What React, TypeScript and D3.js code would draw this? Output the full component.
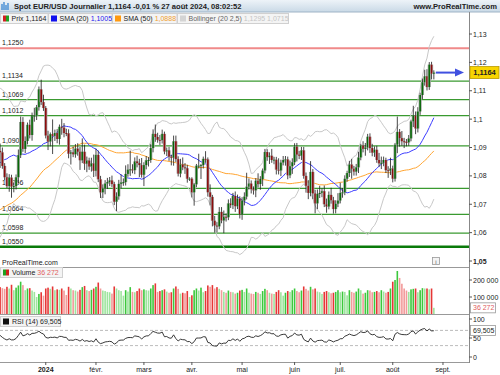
import * as d3 from "d3";

// closes before the first visible candle (needed for SMA 50, Bollinger and RSI)
const HISTORY = [
  1.0645, 1.0592, 1.0571, 1.0502, 1.0566, 1.0573,
  1.0477, 1.0467, 1.0504, 1.055, 1.0588, 1.0563, 1.0604, 1.062, 1.053, 1.051, 1.0555,
  1.0575, 1.0535, 1.058, 1.0593, 1.067, 1.059, 1.0566, 1.0562, 1.0564, 1.0615, 1.0575,
  1.057, 1.062, 1.0729, 1.071, 1.0697, 1.071, 1.0667, 1.0685, 1.07, 1.0878, 1.085,
  1.0852, 1.0912, 1.0939, 1.091, 1.0886, 1.0905, 1.094, 1.0953, 1.099, 1.097, 1.0888,
];

// daily closes, 1 Dec 2023 -> 27 Aug 2024
const CLOSE = [
  // déc.
  1.0883, 1.0835, 1.0795, 1.0764, 1.0794, 1.0762, 1.0764, 1.0795, 1.0873, 1.099,
  1.0895, 1.0923, 1.098, 1.0944, 1.1011, 1.1012, 1.1042, 1.1105, 1.106, 1.1039,
  // janv.
  1.0942, 1.0921, 1.0947, 1.0941, 1.0951, 1.093, 1.0973, 1.097, 1.0951, 1.095, 1.0878,
  1.0883, 1.0876, 1.0896, 1.0885, 1.0855, 1.0885, 1.0843, 1.0854, 1.0833, 1.0844, 1.0818,
  // févr.
  1.0874, 1.0788, 1.0742, 1.0755, 1.0773, 1.0778, 1.0784, 1.0771, 1.0709, 1.0728, 1.0772,
  1.0777, 1.0778, 1.0807, 1.0822, 1.0823, 1.082, 1.0851, 1.0845, 1.0838, 1.0804,
  // mars
  1.0838, 1.0855, 1.0856, 1.0898, 1.0948, 1.0937, 1.0927, 1.0926, 1.0948, 1.0886, 1.089,
  1.0868, 1.0864, 1.0922, 1.0859, 1.0808, 1.084, 1.083, 1.0827, 1.079, 1.079,
  // avr.
  1.0742, 1.077, 1.0836, 1.0836, 1.0838, 1.086, 1.0858, 1.0742, 1.0726, 1.0642, 1.0625,
  1.0622, 1.0673, 1.0643, 1.0656, 1.0654, 1.0703, 1.0697, 1.0729, 1.0693, 1.072, 1.0665,
  // mai
  1.0713, 1.0727, 1.0762, 1.0773, 1.0753, 1.0749, 1.0783, 1.0771, 1.0789, 1.0819, 1.0884,
  1.0866, 1.0871, 1.0856, 1.0857, 1.0822, 1.0819, 1.0847, 1.0856, 1.0858, 1.0802, 1.0834, 1.0848,
  // juin
  1.0903, 1.0875, 1.0871, 1.089, 1.08, 1.0765, 1.074, 1.0814, 1.0738, 1.0703,
  1.0736, 1.074, 1.0746, 1.07, 1.0692, 1.0733, 1.0714, 1.0683, 1.0702, 1.0713,
  // juil.
  1.074, 1.0742, 1.079, 1.081, 1.084, 1.0825, 1.0815, 1.083, 1.0865, 1.0907, 1.0895, 1.09,
  1.0938, 1.0898, 1.0882, 1.0892, 1.0856, 1.0844, 1.0846, 1.0856, 1.082, 1.0818, 1.0826,
  // août
  1.079, 1.091, 1.0955, 1.0933, 1.0922, 1.092, 1.0918, 1.0932, 1.0992, 1.1012,
  1.0967, 1.1027, 1.1085, 1.113, 1.1151, 1.1113, 1.1192, 1.116, 1.1164,
];

// upper / lower shadow beyond the body, in pips
const UP = [
  26, 17, 10, 14, 12, 10, 12, 10, 20, 19, 17, 16, 8, 18, 12, 28, 8, 10, 34, 26,
  7, 17, 6, 52, 12, 14, 8, 28, 16, 15, 14, 8, 20, 16, 19, 17, 47, 25, 14, 10, 20, 31,
  22, 15, 12, 15, 12, 15, 12, 17, 8, 14, 14, 28, 13, 30, 19, 66, 18, 14, 20, 15, 25,
  10, 15, 10, 15, 16, 33, 15, 17, 15, 8, 10, 12, 6, 20, 20, 10, 20, 25, 15, 12, 5,
  5, 5, 6, 42, 4, 8, 27, 7, 28, 7, 17, 12, 17, 17, 22, 12, 14, 18, 11, 16, 14, 8,
  12, 15, 49, 18, 11, 10, 9, 26, 10, 7, 11, 10, 12, 24, 10, 10, 40, 10, 14, 12, 10, 20, 14,
  12, 13, 13, 12, 12, 12, 20, 38, 10, 13, 16, 25, 10, 20, 20, 12, 25, 12, 12, 26,
  36, 15, 12, 8, 13, 20, 10, 12, 20, 6, 15, 16, 10, 12, 15, 12, 14, 25, 22, 12, 8, 14, 38,
  10, 6, 54, 10, 25, 12, 10, 12, 6, 35, 15, 15, 8, 13, 23, 25, 9, 10, 8,
];
const DN = [
  55, 10, 10, 7, 20, 39, 20, 12, 20, 10, 10, 15, 12, 12, 20, 20, 15, 12, 10, 10,
  10, 30, 17, 64, 18, 15, 20, 25, 15, 10, 16, 38, 10, 12, 14, 34, 10, 22, 30, 12, 18, 22,
  20, 10, 20, 20, 20, 19, 14, 10, 12, 33, 12, 16, 12, 12, 10, 22, 11, 14, 15, 42, 10,
  40, 15, 22, 10, 15, 17, 10, 17, 12, 10, 16, 15, 27, 28, 10, 10, 13, 10, 20, 14, 8,
  18, 47, 10, 10, 47, 12, 12, 15, 30, 20, 25, 21, 10, 10, 45, 15, 10, 10, 14, 20, 10, 15,
  20, 17, 10, 10, 15, 15, 24, 12, 20, 25, 10, 13, 24, 10, 15, 17, 14, 20, 10, 20, 14, 10, 27,
  10, 24, 12, 15, 10, 24, 22, 12, 20, 35, 20, 14, 15, 10, 22, 10, 12, 16, 15, 12,
  10, 17, 10, 10, 14, 35, 14, 14, 20, 10, 12, 24, 10, 17, 13, 15, 10, 12, 20, 12, 10, 25, 15,
  13, 10, 30, 30, 16, 22, 14, 12, 10, 20, 20, 14, 12, 14, 12, 12, 10, 20, 20,
];

// volume in thousands
const VOLUME = [
  158, 152, 148, 160, 150, 172, 140, 155, 168, 190, 170, 140, 150, 152, 138, 130, 100, 118, 128, 108,
  150, 155, 148, 162, 140, 145, 142, 150, 138, 112, 160, 150, 140, 138, 132, 142, 158, 165, 140, 135, 142, 150,
  160, 185, 150, 138, 135, 130, 128, 120, 162, 150, 140, 135, 108, 140, 132, 158, 130, 128, 135, 150, 140,
  145, 140, 138, 150, 170, 180, 130, 135, 140, 145, 132, 125, 128, 150, 162, 148, 120, 125, 122, 135, 100,
  110, 140, 150, 138, 155, 128, 135, 168, 160, 170, 150, 158, 148, 140, 130, 125, 138, 130, 128, 120, 125, 138,
  142, 130, 150, 125, 120, 118, 130, 125, 118, 135, 148, 140, 125, 120, 118, 130, 140, 128, 108, 125, 135, 130, 140,
  150, 135, 128, 138, 162, 148, 138, 160, 145, 150, 132, 128, 118, 130, 135, 128, 122, 125, 130, 140,
  128, 132, 130, 110, 140, 130, 125, 132, 150, 140, 120, 125, 140, 138, 128, 130, 135, 128, 140, 132, 125, 130, 150,
  190, 200, 253, 212, 178, 150, 138, 130, 145, 148, 150, 128, 140, 152, 150, 150, 145, 150, 36.272,
];

const MONTH_LABELS = ["2024", "févr.", "mars", "avr.", "mai", "juin", "juil.", "août", "sept."];
const MONTH_INDEX = [20, 42, 63, 84, 106, 129, 149, 172, 194];

const LEVELS = [1.125, 1.1134, 1.1069, 1.1012, 1.0906, 1.0756, 1.0664, 1.0598, 1.055];
const PRICE_TICKS = [1.13, 1.12, 1.11, 1.1, 1.09, 1.08, 1.07, 1.06, 1.05];
const VOLUME_TICKS = [200000, 100000];
const RSI_TICKS = [100, 50, 0];

// indicator readouts as printed by the platform
const LEGEND_LABELS = ["Prix", "SMA (20)", "SMA (50)", "Bollinger (20 2,5)"];
const LEGEND_VALUES = ["1,1164", "1,1005", "1,0888", "1,1295 1,0715"];
const RSI_LAST = 69.505;
const VOLUME_LAST = "36 272";

const FONT = "'Liberation Sans', Arial, sans-serif";
const fmt = (v: number, d: number) => v.toFixed(d).replace(".", ",");

export default function App() {
  const W = 500, H = 375;
  const plotR = 469;
  const all = [...HISTORY, ...CLOSE];
  const off = HISTORY.length;
  const n = CLOSE.length;

  const x = d3.scaleLinear().domain([0, 205.4]).range([0.1, plotR]);
  const y = d3.scaleLinear().domain([1.05, 1.13]).range([261, 34]);
  const yv = d3.scaleLinear().domain([0, 200000]).range([314, 280]);
  const yr = d3.scaleLinear().domain([0, 100]).range([357, 319]);

  const candles = CLOSE.map((c, i) => {
    const o = all[off + i - 1];
    const hi = Math.max(o, c) + UP[i] / 10000;
    const lo = Math.min(o, c) - DN[i] / 10000;
    return { i, o, c, hi, lo, up: c >= o };
  });

  const win = (k: number, len: number) => all.slice(k - len + 1, k + 1);
  const sma20 = CLOSE.map((_, i) => d3.mean(win(off + i, 20))!);
  const sma50 = CLOSE.map((_, i) => d3.mean(win(off + i, 50))!);
  const bollUp: number[] = [], bollDn: number[] = [];
  CLOSE.forEach((_, i) => {
    const w = win(off + i, 20);
    const m = d3.mean(w)!;
    const sd = Math.sqrt(d3.mean(w, (v) => (v - m) * (v - m))!);
    bollUp.push(m + 2.5 * sd);
    bollDn.push(m - 2.5 * sd);
  });

  // RSI 14 (Wilder)
  const rsi: number[] = [];
  let ag = 0, al = 0;
  for (let k = 1; k < all.length; k++) {
    const ch = all[k] - all[k - 1];
    const g = Math.max(ch, 0), l = Math.max(-ch, 0);
    if (k <= 14) { ag += g / 14; al += l / 14; }
    else { ag = (ag * 13 + g) / 14; al = (al * 13 + l) / 14; }
    if (k >= off) rsi.push(100 - 100 / (1 + ag / al));
  }

  const line = (vals: number[], sy: (v: number) => number) =>
    d3.line<number>().x((_, i) => x(i)).y((v) => sy(v))(vals) || "";

  const last = candles[n - 1];
  const lastVol = VOLUME[n - 1] * 1000;

  const txt = { fontFamily: FONT, fontSize: 7, fill: "#222" } as const;

  const boxes = [
    { x0: 0.5, w: 47.5, col: "#222", icon: "prix" },
    { x0: 48.5, w: 63.5, col: "#2020ee", icon: "#1010ee" },
    { x0: 112.5, w: 64.5, col: "#f0a030", icon: "#ff9a10" },
    { x0: 177.5, w: 111, col: "#c4c4c4", icon: "#d4d4d4" },
  ];

  return (
    <svg width={W} height={H} style={{ position: "fixed", left: 0, top: 0, background: "#fff" }}>
      <defs>
        <linearGradient id="hdr" x1="0" x2="0" y1="0" y2="1">
          <stop offset="0" stopColor="#edf3f8" />
          <stop offset="1" stopColor="#c9d9e6" />
        </linearGradient>
        <clipPath id="main"><rect x={0} y={12} width={plotR} height={256} /></clipPath>
        <clipPath id="sub"><rect x={0} y={268} width={plotR} height={94} /></clipPath>
      </defs>

      {/* header */}
      <rect x={0} y={0} width={W} height={12} fill="url(#hdr)" />
      <line x1={0} x2={W} y1={12} y2={12} stroke="#9fb4c6" />
      <path d="M2,10 L2,4 M4,10 L4,2 M6,10 L6,5 M8,10 L8,3" stroke="#2c7fd0" strokeWidth={1.2} />
      <text x={14} y={9} {...txt} fontSize={7.6} fontWeight="bold">
        Spot EUR/USD Journalier 1,1164 -0,01 % 27 août 2024, 08:02:52
      </text>
      <text x={497} y={9} {...txt} fontSize={7.6} fontWeight="bold" textAnchor="end">www.ProRealTime.com</text>

      {/* level lines */}
      <g clipPath="url(#main)">
        {LEVELS.map((v, k) => (
          <line key={v} x1={0} x2={plotR} y1={y(v)} y2={y(v)}
            stroke={k === 0 ? "#f08a8a" : k === LEVELS.length - 1 ? "#0a7a0a" : "#3a9a30"}
            strokeWidth={k === 0 ? 2 : k === LEVELS.length - 1 ? 2.6 : 1.3} />
        ))}
        {LEVELS.map((v) => (
          <text key={"t" + v} x={2} y={y(v) - 3} {...txt}>{fmt(v, 4)}</text>
        ))}

        <path d={line(bollUp, y)} fill="none" stroke="#c8c8c8" />
        <path d={line(bollDn, y)} fill="none" stroke="#c8c8c8" />
        <path d={line(sma50, y)} fill="none" stroke="#ffa532" />
        <path d={line(sma20, y)} fill="none" stroke="#3d3dff" />

        {candles.map((d) => {
          const cx = x(d.i);
          const top = y(Math.max(d.o, d.c));
          const h = Math.max(1, y(Math.min(d.o, d.c)) - top);
          return (
            <g key={d.i}>
              <line x1={cx} x2={cx} y1={y(d.hi)} y2={y(d.lo)} stroke="#1a1a1a" strokeWidth={0.8} />
              <rect x={cx - 1.6} y={top} width={3.2} height={h} fill="#a8a8a8" />
              <rect x={cx - 0.8} y={top} width={1.6} height={h} fill={d.up ? "#066806" : "#8c0c0c"} />
            </g>
          );
        })}
      </g>

      {/* last price arrow */}
      <line x1={x(n - 1) + 2} x2={457} y1={y(last.c)} y2={y(last.c)} stroke="#4050e0" strokeWidth={2} />
      <path d={`M455,${y(last.c) - 4} L464,${y(last.c)} L455,${y(last.c) + 4} Z`} fill="#4050e0" />

      {/* legend row */}
      {boxes.map((b, k) => (
        <g key={k}>
          <rect x={b.x0} y={13.5} width={b.w} height={10} fill="#f4f4f4" stroke="#d0d0d0" />
          {b.icon === "prix" ? (
            <g>
              <rect x={b.x0 + 2.5} y={15.5} width={3} height={6} fill="#d02020" />
              <rect x={b.x0 + 5.5} y={15.5} width={3} height={6} fill="#20a020" />
            </g>
          ) : (
            <rect x={b.x0 + 2.5} y={15.5} width={6} height={6} fill={b.icon} />
          )}
          <text x={b.x0 + 11} y={21} {...txt} fill={k === 3 ? "#666" : "#222"}>
            {LEGEND_LABELS[k]} <tspan fill={b.col}>{LEGEND_VALUES[k]}</tspan>
          </text>
        </g>
      ))}

      {/* bottom-left branding + info icon */}
      <text x={2} y={265} {...txt}>ProRealTime.com</text>
      <rect x={432.5} y={257.5} width={7} height={7} fill="#f4f4f4" stroke="#999" strokeWidth={0.8} />
      <text x={436} y={263.5} {...txt} fontSize={6} textAnchor="middle" fill="#555">i</text>

      {/* panel borders */}
      <line x1={0} x2={plotR} y1={267.5} y2={267.5} stroke="#999" />
      <line x1={0} x2={plotR} y1={314.5} y2={314.5} stroke="#999" />
      <line x1={0} x2={plotR} y1={362.5} y2={362.5} stroke="#999" />
      <line x1={plotR + 0.5} x2={plotR + 0.5} y1={12} y2={363} stroke="#888" />

      {/* volume */}
      <g clipPath="url(#sub)">
        {VOLUME.map((v, i) => {
          const prev = i > 0 ? VOLUME[i - 1] : v;
          const up = candles[i].up;
          const strong = v >= prev;
          const fill = up ? (strong ? "#3cc83c" : "#9ee49e") : (strong ? "#e63636" : "#f29a9a");
          return <rect key={i} x={x(i) - 0.8} y={yv(v * 1000)} width={1.6} height={yv(0) - yv(v * 1000)} fill={fill} />;
        })}
      </g>
      <rect x={0.5} y={267.5} width={62} height={10} fill="#f4f4f4" stroke="#d0d0d0" />
      <rect x={3} y={269.5} width={3} height={6} fill="#20a020" />
      <rect x={6} y={269.5} width={3} height={6} fill="#d02020" />
      <text x={12} y={275} {...txt}>Volume <tspan fill="#e06060">{VOLUME_LAST}</tspan></text>

      {/* RSI */}
      <g clipPath="url(#sub)">
        {[70, 30].map((v) => (
          <line key={v} x1={0} x2={plotR} y1={yr(v)} y2={yr(v)} stroke="#aaa" strokeDasharray="3,2" strokeWidth={0.8} />
        ))}
        <path d={line(rsi, yr)} fill="none" stroke="#222" strokeWidth={0.9} />
      </g>
      <rect x={0.5} y={316.5} width={60} height={10} fill="#f4f4f4" stroke="#d0d0d0" />
      <rect x={3} y={318.5} width={6} height={6} fill="#111" />
      <text x={12} y={324} {...txt}>RSI (14) {fmt(RSI_LAST, 3)}</text>

      {/* right axis */}
      {PRICE_TICKS.map((v) => (
        <g key={v}>
          <line x1={plotR} x2={plotR + 3} y1={y(v)} y2={y(v)} stroke="#555" />
          <text x={plotR + 4} y={y(v) + 2.5} {...txt} fontWeight={v === 1.05 ? "bold" : "normal"}>
            {String(v).replace(".", ",")}
          </text>
        </g>
      ))}
      <rect x={470} y={y(last.c) - 6} width={29} height={12} fill="#f8d400" stroke="#b89a00" strokeWidth={0.8} />
      <text x={484.5} y={y(last.c) + 2.6} {...txt} fontSize={7.5} fontWeight="bold" textAnchor="middle">
        {fmt(last.c, 4)}
      </text>

      {VOLUME_TICKS.map((v) => (
        <g key={v}>
          <line x1={plotR} x2={plotR + 3} y1={yv(v)} y2={yv(v)} stroke="#555" />
          <text x={plotR + 4} y={yv(v) + 2.5} {...txt}>{d3.format(",")(v).replace(",", " ")}</text>
        </g>
      ))}
      <rect x={470.5} y={yv(lastVol) - 5} width={25} height={10} fill="#fff" stroke="#999" strokeWidth={0.8} />
      <text x={473} y={yv(lastVol) + 2.5} {...txt} fill="#e06060">{VOLUME_LAST}</text>

      {RSI_TICKS.map((v) => (
        <g key={v}>
          <line x1={plotR} x2={plotR + 3} y1={yr(v)} y2={yr(v)} stroke="#555" />
          <text x={plotR + 4} y={yr(v) + 2.5} {...txt}>{v}</text>
        </g>
      ))}
      <rect x={470.5} y={yr(RSI_LAST) - 5} width={25} height={10} fill="#fff" stroke="#999" strokeWidth={0.8} />
      <text x={473} y={yr(RSI_LAST) + 2.5} {...txt}>{fmt(RSI_LAST, 3)}</text>

      {/* x axis */}
      {MONTH_INDEX.map((idx, k) => (
        <g key={idx}>
          <line x1={x(idx)} x2={x(idx)} y1={362} y2={365} stroke="#555" />
          <text x={x(idx)} y={372} {...txt} textAnchor="middle" fontWeight={k === 0 ? "bold" : "normal"}>
            {MONTH_LABELS[k]}
          </text>
        </g>
      ))}
    </svg>
  );
}
